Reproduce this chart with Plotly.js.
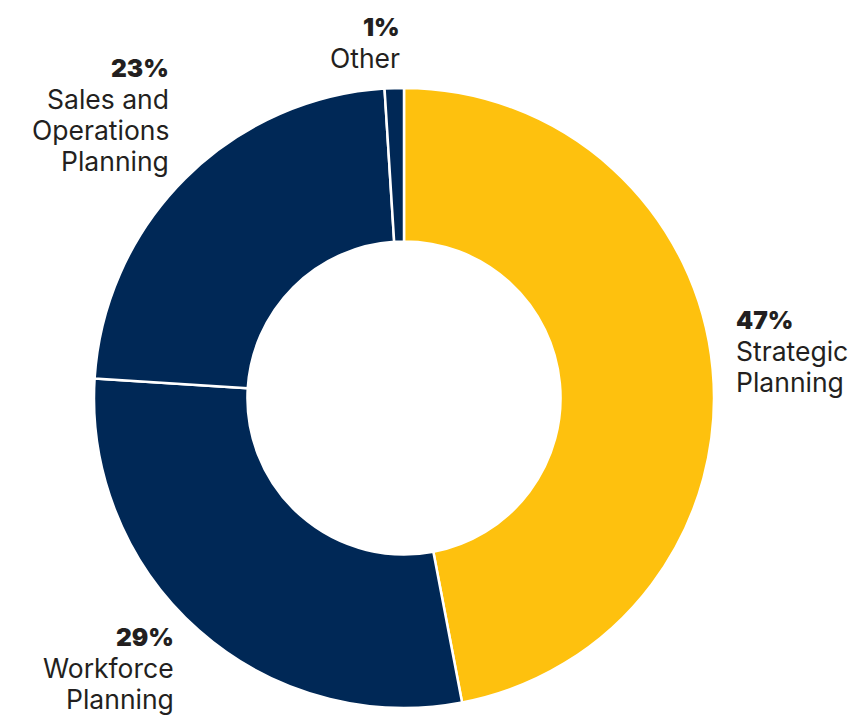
<!DOCTYPE html>
<html>
<head>
<meta charset="utf-8">
<script src="https://cdn.plot.ly/plotly-3.0.1.min.js"></script>
<style>html,body{margin:0;padding:0;background:#fff;}#chart{width:859px;height:716px;}</style>
</head>
<body>
<div id="chart"></div>
<script>
const categories = ["Strategic Planning", "Workforce Planning", "Sales and Operations Planning", "Other"];
const labelLines = [["Strategic", "Planning"], ["Workforce", "Planning"], ["Sales and", "Operations", "Planning"], ["Other"]];
const values = [47, 29, 23, 1];
const colors = ["#FEC10E", "#002856", "#002856", "#002856"];

const W = 859, H = 716;
const cx = 404, cy = 398, R = 310;

// label placement (pixels): anchor x, first line center y, alignment
const labelPos = [
  {x: 734, y: 320, anchor: "left"},
  {x: 176, y: 637, anchor: "right"},
  {x: 171, y: 68, anchor: "right"},
  {x: 402, y: 27, anchor: "right"}
];

const font = "Inter, Roboto, sans-serif";
const lineH = 31;
const annotations = [];
categories.forEach((c, i) => {
  const p = labelPos[i];
  annotations.push({
    xref: "paper", yref: "paper", x: p.x / W, y: 1 - p.y / H,
    xanchor: p.anchor, yanchor: "middle", align: p.anchor,
    text: values[i] + "%", showarrow: false,
    font: {family: font, size: 24.5, color: "#231F20", weight: 900}
  });
  labelLines[i].forEach((ln, k) => {
    annotations.push({
      xref: "paper", yref: "paper", x: p.x / W, y: 1 - (p.y + lineH * (k + 1)) / H,
      xanchor: p.anchor, yanchor: "middle", align: p.anchor,
      text: ln, showarrow: false,
      font: {family: font, size: 26.5, color: "#231F20", weight: 400}
    });
  });
});

const data = [{
  type: "pie",
  labels: categories,
  values: values,
  hole: 0.505,
  sort: false,
  direction: "clockwise",
  rotation: 0,
  textinfo: "none",
  hoverinfo: "label+percent",
  marker: {colors: colors, line: {color: "#ffffff", width: 2.5}},
  domain: {x: [(cx - R) / W, (cx + R) / W], y: [(H - cy - R) / H, (H - cy + R) / H]},
  showlegend: false
}];

const layout = {
  width: W, height: H,
  margin: {l: 0, r: 0, t: 0, b: 0},
  paper_bgcolor: "#ffffff",
  showlegend: false,
  annotations: annotations
};

Plotly.newPlot("chart", data, layout, {displayModeBar: false, staticPlot: true});
</script>
</body>
</html>
